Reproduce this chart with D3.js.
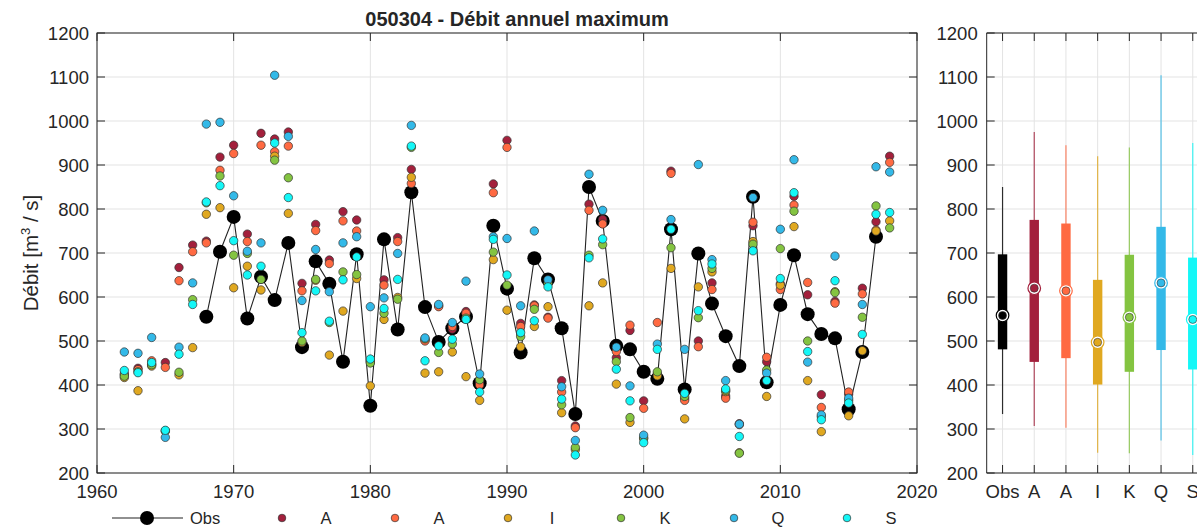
<!DOCTYPE html>
<html><head><meta charset="utf-8">
<script src="https://cdn.jsdelivr.net/npm/d3@7"></script>
<style>
body{margin:0;background:#fff;}
text{font-family:"Liberation Sans",Arial,Helvetica,sans-serif;fill:#262626;}
</style></head>
<body><svg id="c" width="1197" height="528"></svg>
<script>
const years=[1962,1963,1964,1965,1966,1967,1968,1969,1970,1971,1972,1973,1974,1975,1976,1977,1978,1979,1980,1981,1982,1983,1984,1985,1986,1987,1988,1989,1990,1991,1992,1993,1994,1995,1996,1997,1998,1999,2000,2001,2002,2003,2004,2005,2006,2007,2008,2009,2010,2011,2012,2013,2014,2015,2016,2017,2018];
const obs=[null,null,null,null,null,null,555,703,782,551,646,593,723,486,681,630,453,697,353,731,526,838,577,498,529,555,404,762,619,474,688,640,529,334,850,773,489,481,430,414,754,390,699,585,511,443,828,406,582,695,561,516,506,345,475,737,null];
const simA1=[425,438,447,451,667,718,727,918,945,743,972,959,975,631,765,684,794,775,455,639,735,890,502,580,527,567,408,857,956,540,582,554,410,307,811,776,462,524,364,425,886,370,500,632,375,312,762,453,630,829,605,378,590,379,620,771,920];
const simA2=[423,435,455,440,637,703,723,888,926,726,945,930,943,614,751,676,773,750,452,627,726,858,500,578,533,563,400,837,940,533,580,552,384,303,797,766,476,536,347,542,881,365,487,617,370,310,770,463,617,809,633,349,586,384,607,752,906];
const simI=[417,387,443,295,423,485,788,803,621,670,616,920,790,497,638,468,568,642,398,549,599,872,427,430,475,419,365,685,570,487,533,578,337,253,580,632,402,315,278,421,665,323,623,657,385,246,726,374,627,760,410,294,612,330,478,750,773];
const simK=[420,430,446,296,429,594,814,875,695,699,640,911,871,500,640,542,657,651,450,563,595,940,505,474,493,552,412,702,627,510,572,630,355,258,695,719,453,326,280,430,712,374,553,665,388,245,720,434,710,795,500,328,610,365,554,807,757];
const simQ=[475,472,508,281,486,632,993,997,830,704,723,1104,965,592,708,612,723,737,578,598,699,990,507,583,542,636,425,737,733,580,750,639,396,274,879,797,486,398,286,493,776,481,901,685,410,311,826,427,754,912,452,332,693,370,583,896,884];
const simS=[433,428,451,297,470,583,816,853,728,650,670,950,826,519,614,545,639,691,459,574,640,943,455,489,504,549,384,731,650,519,546,623,368,241,689,732,436,364,269,481,754,381,569,675,391,283,705,410,642,837,476,321,637,359,515,788,792];
const seriesNames=["A","A","I","K","Q","S"];
const boxLabels=["Obs","A","A","I","K","Q","S"];
const yTicks=[200,300,400,500,600,700,800,900,1000,1100,1200];
const xTicks=[1960,1970,1980,1990,2000,2010,2020];
const title="050304 - Débit annuel maximum";

const colors=["#A3203C","#FF6A42","#E0A820","#84C441","#33B9E8","#14F7F7"];
const sims=[simA1,simA2,simI,simK,simQ,simS];

const svg=d3.select("#c");
svg.append("rect").attr("width",1197).attr("height",528).attr("fill","#fff");
const axisCol="#262626", gridCol="#e3e3e3";
const yTop=33,yBot=473;
const x=d3.scaleLinear().domain([1960,2020]).range([97,917]);
const y=d3.scaleLinear().domain([200,1200]).range([yBot,yTop]);
const fs=18.5;

const g=svg.append("g");
g.selectAll(".gy").data(yTicks).enter().append("line")
 .attr("x1",x(1960)).attr("x2",x(2020)).attr("y1",d=>y(d)).attr("y2",d=>y(d)).attr("stroke",gridCol);
g.selectAll(".gx").data(xTicks).enter().append("line")
 .attr("x1",d=>x(d)).attr("x2",d=>x(d)).attr("y1",yTop).attr("y2",yBot).attr("stroke",gridCol);
const tl=8;
yTicks.forEach(v=>{
  g.append("line").attr("x1",x(1960)).attr("x2",x(1960)+tl).attr("y1",y(v)).attr("y2",y(v)).attr("stroke",axisCol);
  g.append("line").attr("x1",x(2020)).attr("x2",x(2020)-tl).attr("y1",y(v)).attr("y2",y(v)).attr("stroke",axisCol);
  g.append("text").attr("x",x(1960)-8).attr("y",y(v)+6.5).attr("text-anchor","end").attr("font-size",fs).text(v);
});
xTicks.forEach(v=>{
  g.append("line").attr("x1",x(v)).attr("x2",x(v)).attr("y1",yBot).attr("y2",yBot-tl).attr("stroke",axisCol);
  g.append("line").attr("x1",x(v)).attr("x2",x(v)).attr("y1",yTop).attr("y2",yTop+tl).attr("stroke",axisCol);
  g.append("text").attr("x",x(v)).attr("y",yBot+25).attr("text-anchor","middle").attr("font-size",fs).text(v);
});
g.append("rect").attr("x",x(1960)).attr("y",yTop).attr("width",x(2020)-x(1960)).attr("height",yBot-yTop)
 .attr("fill","none").attr("stroke",axisCol).attr("stroke-width",1);

const line=d3.line().defined(d=>d[1]!==null).x(d=>x(d[0])).y(d=>y(d[1]));
const obsPts=years.map((yr,i)=>[yr,obs[i]]);
g.append("path").attr("d",line(obsPts)).attr("fill","none").attr("stroke","#222").attr("stroke-width",1.1);
g.selectAll(".ob").data(obsPts.filter(d=>d[1]!==null)).enter().append("circle")
 .attr("cx",d=>x(d[0])).attr("cy",d=>y(d[1])).attr("r",7).attr("fill","#000");
sims.forEach((s,k)=>{
  g.selectAll(".s"+k).data(years.map((yr,i)=>[yr,s[i]])).enter().append("circle")
   .attr("cx",d=>x(d[0])).attr("cy",d=>y(d[1])).attr("r",4.2).attr("fill",colors[k])
   .attr("stroke","#333").attr("stroke-width",0.7);
});
svg.append("text").attr("x",(x(1960)+x(2020))/2+10).attr("y",yTop-7).attr("text-anchor","middle")
 .attr("font-size",20).attr("font-weight","bold").text(title);
const yl=svg.append("text").attr("transform","translate(38,253) rotate(-90)").attr("text-anchor","middle").attr("font-size",20.5);
yl.append("tspan").text("Débit [m");
yl.append("tspan").attr("font-size",13).attr("dy",-8).text("3");
yl.append("tspan").attr("dy",8).text(" / s]");

const ly=518;
svg.append("line").attr("x1",112).attr("x2",183).attr("y1",ly).attr("y2",ly).attr("stroke","#222").attr("stroke-width",1.1);
svg.append("circle").attr("cx",147).attr("cy",ly).attr("r",7).attr("fill","#000");
svg.append("text").attr("x",190).attr("y",ly+6).attr("font-size",16.5).text("Obs");
seriesNames.forEach((n,k)=>{
  const mx=282+k*113;
  svg.append("circle").attr("cx",mx).attr("cy",ly).attr("r",3.8).attr("fill",colors[k]).attr("stroke","#333").attr("stroke-width",0.7);
  svg.append("text").attr("x",mx+44).attr("y",ly+6).attr("text-anchor","middle").attr("font-size",16.5).text(n);
});

function prctile(arr,p){
  const s=arr.filter(v=>v!==null).slice().sort((a,b)=>a-b); const n=s.length;
  const pos=n*p/100+0.5; if(pos<=1) return s[0]; if(pos>=n) return s[n-1];
  const i=Math.floor(pos), f=pos-i; return s[i-1]+f*(s[i]-s[i-1]);
}
const bx=d3.scaleLinear().domain([0.5,7.5]).range([986.7,1208.6]);
const b=svg.append("g");
yTicks.forEach(v=>{
  b.append("line").attr("x1",bx(0.5)).attr("x2",1197).attr("y1",y(v)).attr("y2",y(v)).attr("stroke",gridCol);
  b.append("line").attr("x1",bx(0.5)).attr("x2",bx(0.5)+tl).attr("y1",y(v)).attr("y2",y(v)).attr("stroke",axisCol);
  b.append("text").attr("x",bx(0.5)-9).attr("y",y(v)+6.5).attr("text-anchor","end").attr("font-size",fs).text(v);
});
boxLabels.forEach((l,i)=>{
  b.append("line").attr("x1",bx(i+1)).attr("x2",bx(i+1)).attr("y1",yTop).attr("y2",yBot).attr("stroke",gridCol);
  b.append("line").attr("x1",bx(i+1)).attr("x2",bx(i+1)).attr("y1",yBot).attr("y2",yBot-tl).attr("stroke",axisCol);
  b.append("line").attr("x1",bx(i+1)).attr("x2",bx(i+1)).attr("y1",yTop).attr("y2",yTop+tl).attr("stroke",axisCol);
  b.append("text").attr("x",bx(i+1)).attr("y",yBot+25).attr("text-anchor","middle").attr("font-size",fs).text(l);
});
b.append("line").attr("x1",bx(0.5)).attr("x2",bx(0.5)).attr("y1",yTop).attr("y2",yBot).attr("stroke",axisCol);
b.append("line").attr("x1",bx(0.5)).attr("x2",1197).attr("y1",yTop).attr("y2",yTop).attr("stroke",axisCol);
b.append("line").attr("x1",bx(0.5)).attr("x2",1197).attr("y1",yBot).attr("y2",yBot).attr("stroke",axisCol);
const allSeries=[obs].concat(sims), allCols=["#000"].concat(colors);
allSeries.forEach((s,i)=>{
  const cx=bx(i+1), c=allCols[i];
  const mn=prctile(s,0), mx=prctile(s,100), q1=prctile(s,25), q3=prctile(s,75), md=prctile(s,50);
  b.append("line").attr("x1",cx).attr("x2",cx).attr("y1",y(mn)).attr("y2",y(mx)).attr("stroke",c).attr("stroke-width",1.2).attr("opacity",0.8);
  b.append("rect").attr("x",cx-4.7).attr("width",9.4).attr("y",y(q3)).attr("height",y(q1)-y(q3)).attr("fill",c);
  b.append("circle").attr("cx",cx).attr("cy",y(md)).attr("r",6.3).attr("fill","#fff").attr("stroke",c).attr("stroke-width",1.2);
  b.append("circle").attr("cx",cx).attr("cy",y(md)).attr("r",4).attr("fill",c).attr("stroke","#333").attr("stroke-width",0.6);
});
</script></body></html>
